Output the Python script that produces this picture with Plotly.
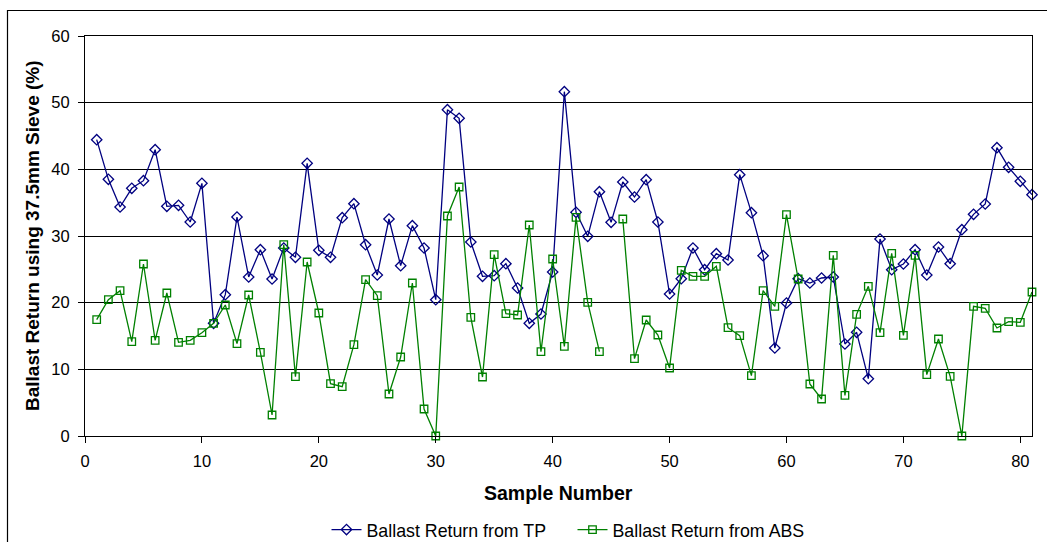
import plotly.graph_objects as go

samples = list(range(1, 82))

tp = [44.45, 38.5, 34.35, 37.15, 38.3, 42.95, 34.45, 34.6, 32.1, 37.9,
      16.9, 21.2, 32.85, 23.85, 27.95, 23.55, 28.2, 26.8, 40.9, 27.85,
      26.8, 32.75, 34.85, 28.7, 24.15, 32.55, 25.55, 31.55, 28.2, 20.45,
      48.95, 47.65, 29.1, 23.95, 24.05, 25.85, 22.2, 16.9, 18.3, 24.6,
      51.65, 33.55, 29.95, 36.65, 32.05, 38.1, 35.85, 38.45, 32.1, 21.3,
      23.6, 28.2, 24.95, 27.35, 26.4, 39.2, 33.5, 27.05, 13.2, 19.95,
      23.6, 22.95, 23.7, 23.85, 13.8, 15.55, 8.6, 29.55, 24.95, 25.8,
      27.95, 24.15, 28.35, 25.85, 30.95, 33.25, 34.8, 43.25, 40.3, 38.2,
      36.2]

abs_vals = [17.45, 20.45, 21.8, 14.15, 25.8, 14.35, 21.45, 14.05, 14.35, 15.5,
            16.9, 19.65, 13.85, 21.15, 12.55, 3.15, 28.7, 8.9, 26.1, 18.45,
            7.85, 7.4, 13.7, 23.45, 21.05, 6.3, 11.85, 22.95, 4.05, 0.0,
            33.0, 37.35, 17.8, 8.85, 27.2, 18.35, 18.15, 31.65, 12.65, 26.55,
            13.45, 32.8, 20.05, 12.65, None, 32.55, 11.6, 17.4, 15.15, 10.2,
            24.85, 23.95, 23.95, 25.45, 16.25, 15.05, 9.05, 21.8, 19.45, 33.2,
            23.55, 7.8, 5.55, 27.1, 6.1, 18.25, 22.45, 15.5, 27.4, 15.1,
            27.1, 9.2, 14.55, 8.95, 0.0, 19.45, 19.15, 16.2, 17.15, 17.05,
            21.6]

x_ticks = [0, 10, 20, 30, 40, 50, 60, 70, 80]
y_ticks = [0, 10, 20, 30, 40, 50, 60]

FONT = "Liberation Sans, Arial, sans-serif"

fig = go.Figure()
fig.add_trace(go.Scatter(
    x=samples, y=tp, mode="lines+markers", name="Ballast Return from TP",
    line=dict(color="#000080", width=1.3),
    marker=dict(symbol="diamond-open", size=8, color="#000080", line=dict(width=1.3)),
    cliponaxis=False,
))
fig.add_trace(go.Scatter(
    x=samples, y=abs_vals, mode="lines+markers", name="Ballast Return from ABS",
    line=dict(color="#008000", width=1.3),
    marker=dict(symbol="square-open", size=7.5, color="#008000", line=dict(width=1.3)),
    connectgaps=False, cliponaxis=False,
))

fig.update_layout(
    width=1047, height=542,
    margin=dict(l=85, r=15, t=36, b=106, autoexpand=False),
    paper_bgcolor="white", plot_bgcolor="white",
    font=dict(family=FONT, size=16.5, color="black"),
    showlegend=True,
    legend=dict(orientation="h", x=0.5 + 14 / 947, xanchor="center",
                yref="container", y=(542 - 530) / 542, yanchor="middle",
                font=dict(size=17.8), itemwidth=30, entrywidth=201,
                entrywidthmode="pixels", bgcolor="rgba(0,0,0,0)"),
    xaxis=dict(range=[0, 81], tickvals=x_ticks, ticks="outside", ticklen=6,
               tickcolor="black", showline=True, linecolor="black", linewidth=1,
               mirror=True, showgrid=False, zeroline=False, automargin=False,
               ticklabelstandoff=4, tickfont=dict(size=16.5)),
    yaxis=dict(range=[0, 60], tickvals=y_ticks, ticks="outside", ticklen=6,
               tickcolor="black", showline=True, linecolor="black", linewidth=1,
               mirror=True, showgrid=True, gridcolor="black", gridwidth=1,
               zeroline=False, automargin=False, ticklabelstandoff=5,
               tickfont=dict(size=16.5)),
    annotations=[
        dict(text="<b>Sample Number</b>", xref="paper", yref="paper",
             x=0.5, y=(436 - 493) / 400, xanchor="center", yanchor="middle",
             showarrow=False, font=dict(size=19.5, family=FONT)),
        dict(text="<b>Ballast Return using 37.5mm Sieve (%)</b>", xref="paper", yref="paper",
             x=(32 - 85) / 947, y=0.5, xanchor="center", yanchor="middle",
             textangle=-90, showarrow=False, font=dict(size=19, family=FONT)),
    ],
    shapes=[
        dict(type="rect", xref="paper", yref="paper",
             x0=(7.5 - 85) / 947, x1=1.05, y0=-0.3, y1=1 + (36 - 10.5) / 400,
             line=dict(color="black", width=1.2), fillcolor="rgba(0,0,0,0)", layer="below"),
    ],
)

fig.write_html("out.html")
